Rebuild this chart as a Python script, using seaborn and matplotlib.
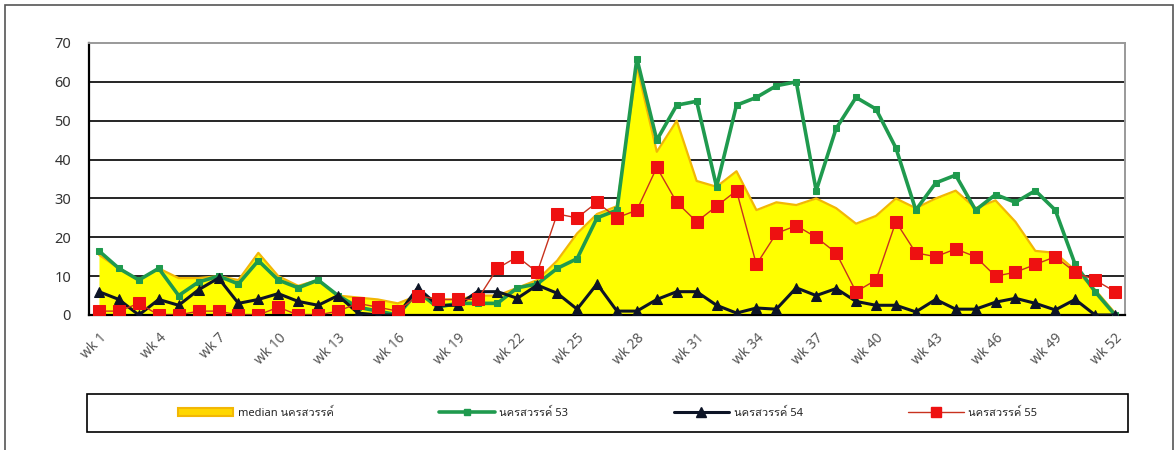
import numpy as np
import pandas as pd
import matplotlib
matplotlib.use('Agg')
import matplotlib.pyplot as plt
from matplotlib import font_manager
from matplotlib.patches import Patch, Rectangle
from matplotlib.lines import Line2D
import seaborn as sns
from fontTools.ttLib import TTFont

sns.set_style('white')

# look for an installed family that has Thai glyphs
thai_family = None
for f in font_manager.fontManager.ttflist:
    try:
        cmap = TTFont(f.fname, fontNumber=0, lazy=True).getBestCmap()
        if cmap and ord('น') in cmap and ord('ค') in cmap:
            thai_family = f.name
            break
    except Exception:
        pass
families = ['Noto Sans', 'DejaVu Sans']
if thai_family:
    families.append(thai_family)
plt.rcParams['font.family'] = families

weeks = [f'wk {i}' for i in range(1, 53)]

median_vals = [15.5, 12, 9, 12, 9.5, 9.5, 10, 9, 16, 10, 7.5, 9, 5, 4.5, 4, 3, 5, 4, 4, 5,
               5, 7, 9, 14, 21, 26, 28, 64, 42, 50, 34.5, 33, 37, 27, 29, 28.3, 30, 27.5, 23.5, 25.5,
               30, 27.5, 30, 32, 27.5, 29.5, 24, 16.5, 16, 11.5, 6.5, 0.5]
green_vals = [16.5, 12, 9, 12, 5, 8.5, 10, 8, 14, 9, 7, 9, 5, 2, 1, 0, 6, 2, 3, 3,
              3, 7, 8, 12, 14.5, 25, 27, 66, 45, 54, 55, 33, 54, 56, 59, 60, 32, 48, 56, 53,
              43, 27, 34, 36, 27, 31, 29, 32, 27, 13, 6, 0]
black_vals = [6, 4, 0, 4, 2.5, 6.5, 9.5, 3, 4, 5.5, 3.5, 2.5, 5, 0.5, 0, 0, 7, 2.5, 2.5, 6,
              6, 4.3, 7.7, 5.6, 1.5, 8, 1, 1, 4, 6, 6, 2.5, 0.5, 1.8, 1.5, 7, 5, 6.8, 3.5, 2.5,
              2.5, 0.8, 4, 1.5, 1.5, 3.3, 4.3, 3, 1.3, 4, 0, 0]
red_vals = [1, 1, 3, 0, 0, 1, 1, 0, 0, 2, 0, 0, 1, 3, 2, 1, 5, 4, 4, 4,
            12, 15, 11, 26, 25, 29, 25, 27, 38, 29, 24, 28, 32, 13, 21, 23, 20, 16, 6, 9,
            24, 16, 15, 17, 15, 10, 11, 13, 15, 11, 9, 6]

labels = ['median นครสวรรค์', 'นครสวรรค์ 53', 'นครสวรรค์ 54', 'นครสวรรค์ 55']

df = pd.DataFrame({'week': weeks, 'median': median_vals, 'y53': green_vals,
                   'y54': black_vals, 'y55': red_vals})
df['pos'] = np.arange(len(df))

W, H = 1174, 450
fig = plt.figure(figsize=(W / 100, H / 100), dpi=100)
# outer frame of the chart object
fig.patches.append(Rectangle((5 / W, -0.02), 1 - 6 / W, 1 - 5 / H + 0.02, transform=fig.transFigure,
                             fill=False, edgecolor='#555555', lw=1.2))
# legend box
fig.patches.append(Rectangle((87 / W, 1 - 432 / H), (1128 - 87) / W, (432 - 394) / H,
                             transform=fig.transFigure, fill=False, edgecolor='black', lw=1.2))

ax = fig.add_axes([89 / W, 1 - 315 / H, (1125 - 89) / W, (315 - 43) / H])

# median area
ax.fill_between(df['pos'], df['median'], 0, color='#ffff00', zorder=2, lw=0)
ax.plot(df['pos'], df['median'], color='#f2b705', lw=1.6, zorder=2.1)

sns.lineplot(data=df, x='pos', y='y53', ax=ax, color='#1f9a4e', lw=2.6, marker='s', ms=4,
             mec='#1f9a4e', zorder=3)
sns.lineplot(data=df, x='pos', y='y54', ax=ax, color='#0d1426', lw=2.2, marker='^', ms=7,
             mec='#0d1426', zorder=4)
sns.lineplot(data=df, x='pos', y='y55', ax=ax, color='#c8321e', lw=1.0, marker='s', ms=8,
             mfc='#ee1111', mec='#ee1111', zorder=5)

ax.set_xlim(-0.5, len(df) - 0.5)
ax.set_ylim(0, 70)
ax.set_yticks(range(0, 71, 10))
for v in range(10, 70, 10):
    ax.axhline(v, color='black', lw=1.2, zorder=1)

ax.set_xticks(df['pos'][::3])
ax.set_xticklabels(df['week'][::3], rotation=45, ha='right', rotation_mode='anchor',
                   color='#555555', fontsize=10)
ax.set_xticks(np.arange(-0.5, len(df), 1), minor=True)
ax.tick_params(axis='x', which='major', length=0, pad=11)
ax.tick_params(axis='x', which='minor', length=6, width=1.2, color='black', direction='in')
ax.tick_params(axis='y', length=7, width=1.2, color='black', direction='out',
               labelsize=10.5, labelcolor='#333333', pad=6)

for side in ['top', 'right']:
    ax.spines[side].set_color('#999999')
    ax.spines[side].set_linewidth(1.4)
for side in ['left', 'bottom']:
    ax.spines[side].set_color('black')
    ax.spines[side].set_linewidth(1.6)

ax.set_xlabel('')
ax.set_ylabel('')

handles = [
    Patch(facecolor='#ffd700', edgecolor='#f2b705', lw=1.5),
    Line2D([], [], color='#1f9a4e', lw=2.6, marker='s', ms=4),
    Line2D([], [], color='#0d1426', lw=2.2, marker='^', ms=7),
    Line2D([], [], color='#c8321e', lw=1.0, marker='s', ms=7, mfc='#ee1111', mec='#ee1111'),
]
leg = fig.legend(handles, labels, loc='center', ncol=4,
                 bbox_to_anchor=(87 / W, 1 - 432 / H, (1128 - 87) / W, (432 - 394) / H),
                 fontsize=8, frameon=False,
                 handlelength=5.0, handletextpad=0.4, columnspacing=9.5)

fig.savefig('out.png', dpi=100)
